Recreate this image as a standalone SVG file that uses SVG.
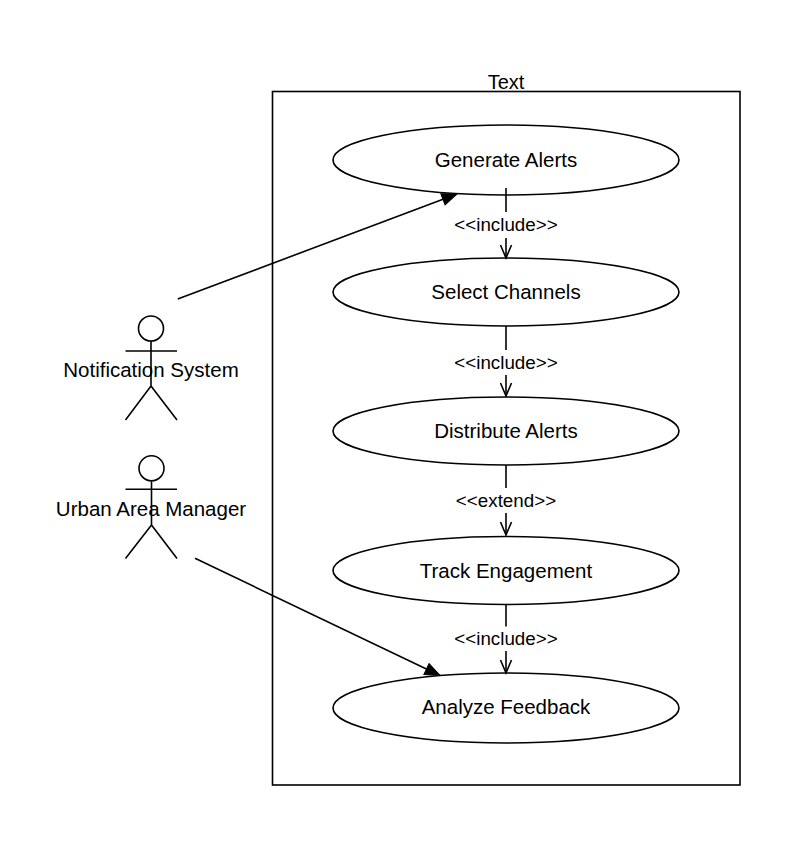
<svg xmlns="http://www.w3.org/2000/svg" width="798" height="848" viewBox="0 0 798 848">
<style>
.ln{stroke:#000;stroke-width:1.6;fill:none}
.uc{stroke:#000;stroke-width:1.6;fill:#fff}
.t{font-family:"Liberation Sans",Arial,sans-serif;font-size:20.5px;fill:#000;text-anchor:middle}
.lb{font-family:"Liberation Sans",Arial,sans-serif;font-size:18.8px;fill:#000;text-anchor:middle}
</style>
<defs>
<marker id="open" markerUnits="userSpaceOnUse" markerWidth="16" markerHeight="14" refX="13" refY="5.5" orient="auto" overflow="visible">
<path d="M0,0 L13,5.5 L0,11" fill="none" stroke="#000" stroke-width="1.6"/>
</marker>
<marker id="solid" markerUnits="userSpaceOnUse" markerWidth="18" markerHeight="14" refX="15" refY="6" orient="auto" overflow="visible">
<path d="M0,0 L15,6 L0,12 z" fill="#000" stroke="#000" stroke-width="1"/>
</marker>
</defs>
<rect width="798" height="848" fill="#fff"/>
<g id="system">
<rect x="272.5" y="91.5" width="467.5" height="693.5" fill="none" stroke="#000" stroke-width="1.6"/>
<text class="t" x="506" y="89" style="font-size:20px">Text</text>
</g>
<g id="actor-notification-system">
<circle class="ln" cx="151" cy="328.5" r="12.5"/>
<path class="ln" d="M125.5,351 H177 M151,341 V386 L125.5,420 M151,386 L177,420"/>
<text class="t" x="151" y="376.5">Notification System</text>
</g>
<g id="actor-urban-area-manager">
<circle class="ln" cx="151.5" cy="468.3" r="12.5"/>
<path class="ln" d="M125.5,489.3 H177 M151.5,480.8 V525 L125.5,558.5 M151.5,525 L177,558.5"/>
<text class="t" x="151" y="515.5">Urban Area Manager</text>
</g>
<g id="uc-generate-alerts">
<ellipse class="uc" cx="506" cy="160" rx="173" ry="35"/>
<text class="t" x="506" y="167.3">Generate Alerts</text>
</g>
<g id="uc-select-channels">
<ellipse class="uc" cx="506" cy="292" rx="173" ry="34"/>
<text class="t" x="506" y="299.3">Select Channels</text>
</g>
<g id="uc-distribute-alerts">
<ellipse class="uc" cx="506" cy="431" rx="173" ry="34"/>
<text class="t" x="506" y="438.3">Distribute Alerts</text>
</g>
<g id="uc-track-engagement">
<ellipse class="uc" cx="506" cy="570.5" rx="173" ry="34"/>
<text class="t" x="506" y="577.5">Track Engagement</text>
</g>
<g id="uc-analyze-feedback">
<ellipse class="uc" cx="506" cy="708" rx="173" ry="35"/>
<text class="t" x="506" y="714.3">Analyze Feedback</text>
</g>
<g id="connectors">
<line class="ln" x1="177.7" y1="299" x2="457" y2="194" marker-end="url(#solid)"/>
<line class="ln" x1="195" y1="558.3" x2="440" y2="675.5" marker-end="url(#solid)"/>
<line class="ln" x1="506" y1="188" x2="506" y2="258" marker-end="url(#open)"/>
<rect x="452" y="212" width="108" height="26" fill="#fff"/>
<text class="lb" x="506" y="230.5">&lt;&lt;include&gt;&gt;</text>
<line class="ln" x1="506" y1="326" x2="506" y2="396" marker-end="url(#open)"/>
<rect x="452" y="350" width="108" height="25" fill="#fff"/>
<text class="lb" x="506" y="369.3">&lt;&lt;include&gt;&gt;</text>
<line class="ln" x1="506" y1="465" x2="506" y2="535" marker-end="url(#open)"/>
<rect x="454" y="488" width="104" height="25" fill="#fff"/>
<text class="lb" x="506" y="507.3">&lt;&lt;extend&gt;&gt;</text>
<line class="ln" x1="506" y1="604.5" x2="506" y2="673" marker-end="url(#open)"/>
<rect x="452" y="626.5" width="108" height="24.5" fill="#fff"/>
<text class="lb" x="506" y="645">&lt;&lt;include&gt;&gt;</text>
</g>
</svg>
